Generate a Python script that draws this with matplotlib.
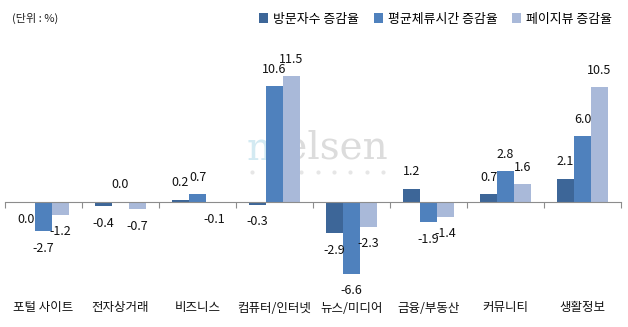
import numpy as np
import matplotlib
matplotlib.use("Agg")
import matplotlib.pyplot as plt
import matplotlib.transforms as mtransforms

plt.rcParams['font.family'] = ['Noto Sans CJK KR', 'DejaVu Sans']

categories = ['포털 사이트', '전자상거래', '비즈니스', '컴퓨터/인터넷',
              '뉴스/미디어', '금융/부동산', '커뮤니티', '생활정보']
series_names = ['방문자수 증감율', '평균체류시간 증감율', '페이지뷰 증감율']
visitors = [-0.04, -0.4, 0.2, -0.3, -2.9, 1.2, 0.7, 2.1]
stay_time = [-2.7, 0.0, 0.7, 10.6, -6.6, -1.9, 2.8, 6.0]
page_views = [-1.2, -0.7, -0.1, 11.5, -2.3, -1.4, 1.6, 10.5]
colors = ['#3D6698', '#4F81BD', '#A9B9D9']


def fmt(v):
    s = f"{v:.1f}"
    return "0.0" if s == "-0.0" else s


fig = plt.figure(figsize=(6.28, 3.27), dpi=100)
ax = fig.add_axes([5 / 628, 38 / 327, 616 / 628, 240 / 327])

# watermark behind the bars
wm = fig.text(247 / 628, 167 / 327, 'n', family='DejaVu Serif', fontsize=28,
              color='#D3EAF2', va='baseline', ha='left', zorder=0)
ax.annotate('ielsen', xy=(1, 0), xycoords=wm, family='DejaVu Serif',
            fontsize=28, color='#DCDCDC', va='bottom', ha='left',
            annotation_clip=False, zorder=0)
fig.add_artist(plt.Line2D(np.linspace(252, 383, 9) / 628, [155 / 327] * 9,
                          transform=fig.transFigure, ls='none', marker='o',
                          ms=3, mew=0, color='#E6E6E6', zorder=0))
ax.set_facecolor('none')
ax.set_zorder(1)

x = np.arange(len(categories))
w = 0.22
data = [visitors, stay_time, page_views]
for i, (vals, name, c) in enumerate(zip(data, series_names, colors)):
    xs = x + (i - 1) * w
    ax.bar(xs, vals, width=w, color=c, label=name, zorder=2)
    for xx, v in zip(xs, vals):
        off = 12.2 if v >= 0 else -12.2
        ax.annotate(fmt(v), (xx, v), xytext=(0, off), textcoords='offset points',
                    ha='center', va='center', fontsize=9, color='#111111')

ax.set_xlim(-0.5, len(categories) - 0.5)
ax.set_ylim(-8, 14)
for s in ['top', 'left', 'right']:
    ax.spines[s].set_visible(False)
ax.spines['bottom'].set_position(('data', 0))
ax.spines['bottom'].set_color('#8C8C8C')
ax.spines['bottom'].set_zorder(3)
ax.set_xticks(np.arange(-0.5, len(categories), 1.0))
ax.tick_params(axis='x', direction='out', length=4, color='#8C8C8C',
               labelbottom=False)
ax.set_yticks([])

trans = mtransforms.blended_transform_factory(ax.transData, fig.transFigure)
for xx, cat in zip(x, categories):
    ax.text(xx, 19 / 327, cat, transform=trans, ha='center', va='center',
            fontsize=9, color='#111111')

fig.text(12 / 628, 309 / 327, '(단위 : %)', fontsize=8, va='center',
         ha='left', color='#222222')

leg = fig.legend(loc='center right', bbox_to_anchor=(612 / 628, 308 / 327),
                 ncol=3, frameon=False, fontsize=9.3, handlelength=0.7,
                 handleheight=0.7, handletextpad=0.4, columnspacing=1.1,
                 borderaxespad=0, borderpad=0)

fig.savefig('out.png', dpi=100)
